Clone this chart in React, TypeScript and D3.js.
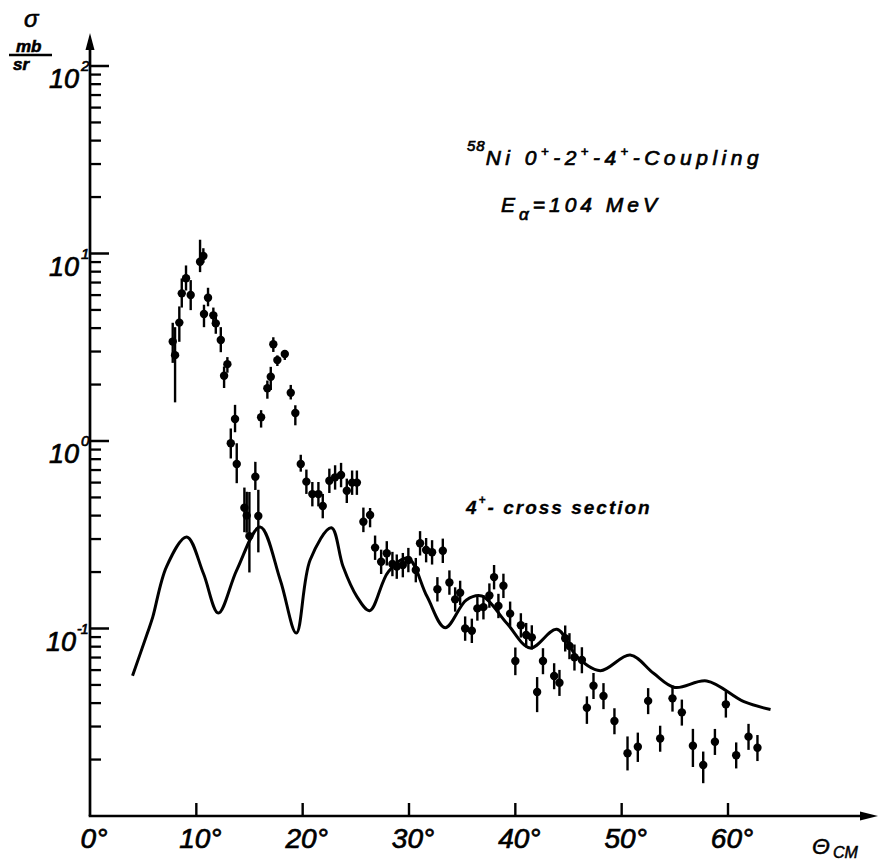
import React from 'react';
import * as d3 from 'd3';

// ---- data ----
const xTickValues = [0, 10, 20, 30, 40, 50, 60];
const xTickLabels = ['0', '10', '20', '30', '40', '50', '60'];
const yMajorExponents = [-1, 0, 1, 2];
const yMajorLabels = ['-1', '0', '1', '2'];
const yMinorDecades = [-2, -1, 0, 1];
const yMinorMantissas = [2, 3, 4, 5, 6, 7, 8, 9];

// measured 4+ cross sections (mb/sr) vs CM angle (deg)
const angles = [
  7.78, 8.0, 8.4, 8.63, 9.03, 9.47, 10.35, 10.66, 10.72, 11.1,
  11.6, 11.83, 12.3, 12.61, 12.92, 13.24, 13.64, 13.8, 14.52, 14.74,
  14.99, 15.55, 15.83, 16.09, 16.68, 17.0, 17.24, 17.62, 18.32, 18.88,
  19.31, 19.82, 20.35, 20.91, 21.48, 21.89, 22.51, 23.05, 23.61, 24.15,
  24.65, 25.1, 25.71, 26.34, 26.81, 27.38, 27.91, 28.44, 28.85, 29.42,
  29.94, 30.64, 31.04, 31.61, 32.17, 32.67, 33.18, 33.8, 34.34, 34.81,
  35.28, 35.91, 36.43, 37.0, 37.56, 38.0, 38.41, 38.88, 39.51, 40.0,
  40.52, 41.02, 41.55, 42.05, 42.6, 43.65, 44.15, 44.69, 45.09, 45.56,
  46.26, 46.73, 47.35, 48.29, 49.32, 50.55, 51.52, 52.49, 53.62, 54.78,
  55.66, 56.7, 57.67, 58.77, 59.8, 60.77, 61.93, 62.77,
];
const values = [
  3.39, 2.87, 4.28, 6.13, 7.38, 6.01, 9.04, 9.7, 4.76, 5.81,
  4.68, 4.24, 3.46, 2.23, 2.57, 0.972, 1.31, 0.754, 0.441, 0.4,
  0.311, 0.645, 0.398, 1.34, 1.91, 2.2, 3.28, 2.7, 2.91, 1.81,
  1.41, 0.754, 0.607, 0.521, 0.521, 0.45, 0.614, 0.64, 0.659, 0.543,
  0.6, 0.6, 0.371, 0.403, 0.27, 0.227, 0.252, 0.221, 0.214, 0.218,
  0.232, 0.205, 0.285, 0.262, 0.255, 0.162, 0.26, 0.176, 0.143, 0.155,
  0.1, 0.0973, 0.128, 0.13, 0.15, 0.188, 0.132, 0.169, 0.12, 0.0671,
  0.104, 0.0923, 0.0897, 0.0459, 0.0671, 0.0558, 0.0514, 0.0887, 0.0807, 0.0702,
  0.0679, 0.0378, 0.0495, 0.0437, 0.0321, 0.0216, 0.0234, 0.0411, 0.0259, 0.0424,
  0.0357, 0.0237, 0.0187, 0.0249, 0.0394, 0.0211, 0.0265, 0.0231,
];
// relative error bar extents (fraction of value), upward / downward
const errUp = [
  0.26, 0.41, 0.22, 0.2, 0.17, 0.2, 0.31, 0.1, 0.12, 0.13,
  0.1, 0.1, 0.17, 0.12, 0.09, 0.2, 0.19, 0.29, 0.28, 0.34,
  0.72, 0.2, 0.38, 0.09, 0.1, 0.13, 0.09, 0.06, 0.05, 0.1,
  0.1, 0.12, 0.16, 0.16, 0.16, 0.16, 0.16, 0.16, 0.16, 0.16,
  0.16, 0.16, 0.19, 0.09, 0.16, 0.16, 0.16, 0.16, 0.16, 0.16,
  0.16, 0.16, 0.16, 0.16, 0.16, 0.16, 0.16, 0.16, 0.16, 0.16,
  0.16, 0.16, 0.16, 0.16, 0.16, 0.16, 0.16, 0.16, 0.16, 0.18,
  0.16, 0.16, 0.16, 0.2, 0.17, 0.17, 0.17, 0.17, 0.17, 0.17,
  0.17, 0.15, 0.17, 0.17, 0.17, 0.23, 0.19, 0.17, 0.17, 0.17,
  0.17, 0.23, 0.18, 0.17, 0.17, 0.17, 0.17, 0.17,
];
const errDown = [
  0.23, 0.44, 0.21, 0.16, 0.14, 0.17, 0.12, 0.08, 0.15, 0.1,
  0.12, 0.12, 0.14, 0.14, 0.1, 0.17, 0.15, 0.21, 0.26, 0.19,
  0.36, 0.15, 0.36, 0.12, 0.12, 0.15, 0.09, 0.07, 0.07, 0.08,
  0.14, 0.09, 0.14, 0.14, 0.14, 0.14, 0.14, 0.14, 0.14, 0.14,
  0.14, 0.14, 0.12, 0.14, 0.14, 0.14, 0.14, 0.14, 0.14, 0.14,
  0.14, 0.14, 0.14, 0.14, 0.14, 0.14, 0.14, 0.14, 0.14, 0.14,
  0.14, 0.14, 0.14, 0.14, 0.14, 0.14, 0.14, 0.14, 0.14, 0.16,
  0.14, 0.14, 0.14, 0.22, 0.15, 0.15, 0.15, 0.15, 0.15, 0.15,
  0.15, 0.18, 0.15, 0.15, 0.15, 0.19, 0.17, 0.15, 0.15, 0.15,
  0.15, 0.23, 0.2, 0.15, 0.15, 0.15, 0.15, 0.15,
];

// calculated 4+ cross section curve
const curveAngles = [
  4.0, 5.4, 5.9, 7.2, 9.1, 10.66, 12.07, 13.8, 16.0, 17.9,
  19.4, 20.7, 22.7, 23.8, 25.1, 26.3, 28.06, 29.9, 31.7, 33.4,
  35.4, 36.85, 39.2, 41.4, 43.9, 45.8, 48.0, 50.8, 53.0, 55.0,
  58.0, 61.5, 64.0,
];
const curveValues = [
  0.056, 0.0946, 0.115, 0.214, 0.308, 0.197, 0.121, 0.205, 0.348, 0.181,
  0.0946, 0.232, 0.345, 0.214, 0.148, 0.1245, 0.201, 0.237, 0.148, 0.101,
  0.142, 0.149, 0.1066, 0.0787, 0.099, 0.0707, 0.0596, 0.0722, 0.0577, 0.0485,
  0.0525, 0.0407, 0.037,
];

const FONT = '"Liberation Sans", Arial, sans-serif';

export default function App() {
  const x = d3.scaleLinear().domain([0, 60]).range([90, 728]);
  const y = d3.scaleLog().domain([0.01, 100]).range([816, 66]);
  const x0 = x(0);
  const yBase = y(0.01);

  const n = Math.min(angles.length, values.length, errUp.length, errDown.length);
  const pts = d3.range(n).map((i) => ({
    a: angles[i],
    v: values[i],
    hi: values[i] * (1 + errUp[i]),
    lo: values[i] * (1 - errDown[i]),
  }));

  const curveData = curveAngles.map((a, i) => [a, curveValues[i]] as [number, number]);
  const line = d3
    .line<[number, number]>()
    .x((d) => x(d[0]))
    .y((d) => y(d[1]))
    .curve(d3.curveCatmullRom.alpha(0.5));

  const minorTicks: number[] = [];
  yMinorDecades.forEach((d) =>
    yMinorMantissas.forEach((m) => minorTicks.push(m * Math.pow(10, d)))
  );

  const textStyle = { fontFamily: FONT, fontStyle: 'italic' as const };

  return (
    <svg
      width={880}
      height={863}
      viewBox="0 0 880 863"
      style={{ position: 'absolute', left: 0, top: 0, background: '#fff' }}
    >
      <rect x={0} y={0} width={880} height={863} fill="#fff" />

      {/* axes */}
      <line x1={x0} y1={yBase} x2={x0} y2={46} stroke="#000" strokeWidth={2.7} />
      <path d={`M${x0},33 L${x0 - 4.5},50 L${x0 + 4.5},50 Z`} fill="#000" />
      <line x1={x0 - 1.3} y1={yBase} x2={862} y2={yBase} stroke="#000" strokeWidth={2.7} />
      <path d={`M878,${yBase} L860,${yBase - 4.5} L860,${yBase + 4.5} Z`} fill="#000" />

      {/* y ticks */}
      {minorTicks.map((v, i) => (
        <line key={'mi' + i} x1={x0} x2={x0 + 11} y1={y(v)} y2={y(v)} stroke="#000" strokeWidth={2.3} />
      ))}
      {yMajorExponents.map((e) => (
        <line key={'ma' + e} x1={x0} x2={x0 + 19} y1={y(Math.pow(10, e))} y2={y(Math.pow(10, e))} stroke="#000" strokeWidth={2.5} />
      ))}
      {yMajorExponents.map((e, i) => {
        const yy = y(Math.pow(10, e));
        const long = yMajorLabels[i].length > 1;
        return (
          <g key={'yl' + e} style={textStyle} fill="#000" stroke="#000" strokeWidth={0.7}>
            <text x={long ? 76 : 79} y={yy + 22} fontSize={27} textAnchor="end">10</text>
            <text x={long ? 77 : 81} y={yy + 5} fontSize={long ? 14 : 15} textAnchor="start" letterSpacing={-1}>
              {yMajorLabels[i]}
            </text>
          </g>
        );
      })}

      {/* x ticks */}
      {xTickValues.filter((t) => t > 0).map((t) => (
        <line key={'xt' + t} x1={x(t)} x2={x(t)} y1={yBase} y2={yBase - 13} stroke="#000" strokeWidth={2.4} />
      ))}
      {xTickValues.map((t, i) => (
        <text key={'xl' + t} x={x(t) + 4} y={848} fontSize={28} textAnchor="middle" style={textStyle} fill="#000" stroke="#000" strokeWidth={0.7}>
          {xTickLabels[i]}°
        </text>
      ))}

      {/* axis titles */}
      <g style={textStyle} fill="#000" stroke="#000" strokeWidth={0.6}>
        <text x={24} y={27} fontSize={24}>σ</text>
        <text x={16} y={52} fontSize={17} fontWeight="bold">mb</text>
        <text x={13} y={70} fontSize={17} fontWeight="bold">sr</text>
      </g>
      <line x1={9} x2={52} y1={55} y2={55} stroke="#000" strokeWidth={2.4} />
      <g style={textStyle} fill="#000" stroke="#000" strokeWidth={0.5}>
        <text x={812} y={854} fontSize={23}>Θ</text>
        <text x={833} y={858} fontSize={16}>CM</text>
      </g>

      {/* annotations */}
      <g style={textStyle} fill="#000" stroke="#000" strokeWidth={0.7} letterSpacing={4.5}>
        <text x={467} y={165} fontSize={21}>
          <tspan fontSize={15} dy={-14} letterSpacing={1}>58</tspan>
          <tspan dy={14}>Ni  0</tspan>
          <tspan fontSize={13} dy={-9}>+</tspan>
          <tspan dy={9}>-2</tspan>
          <tspan fontSize={13} dy={-9}>+</tspan>
          <tspan dy={9}>-4</tspan>
          <tspan fontSize={13} dy={-9}>+</tspan>
          <tspan dy={9}>-Coupling</tspan>
        </text>
      </g>
      <g style={textStyle} fill="#000" stroke="#000" strokeWidth={0.7} letterSpacing={4}>
        <text x={501} y={212} fontSize={21}>
          <tspan>E</tspan>
          <tspan fontSize={17} dy={8}>α</tspan>
          <tspan dy={-8}>=104 MeV</tspan>
        </text>
      </g>
      <g style={textStyle} fill="#000" stroke="#000" strokeWidth={0.3} fontWeight="bold" letterSpacing={2}>
        <text x={466} y={514} fontSize={19}>
          <tspan>4</tspan>
          <tspan fontSize={12} dy={-10}>+</tspan>
          <tspan dy={10}>- cross section</tspan>
        </text>
      </g>

      {/* theory curve */}
      <path d={line(curveData) || ''} fill="none" stroke="#000" strokeWidth={3} strokeLinejoin="round" />

      {/* data points */}
      {pts.map((p, i) => (
        <g key={'p' + i}>
          <line x1={x(p.a)} x2={x(p.a)} y1={y(p.hi)} y2={y(Math.max(p.lo, 0.0105))} stroke="#000" strokeWidth={2.4} />
          <circle cx={x(p.a)} cy={y(p.v)} r={4.2} fill="#000" />
        </g>
      ))}
    </svg>
  );
}
